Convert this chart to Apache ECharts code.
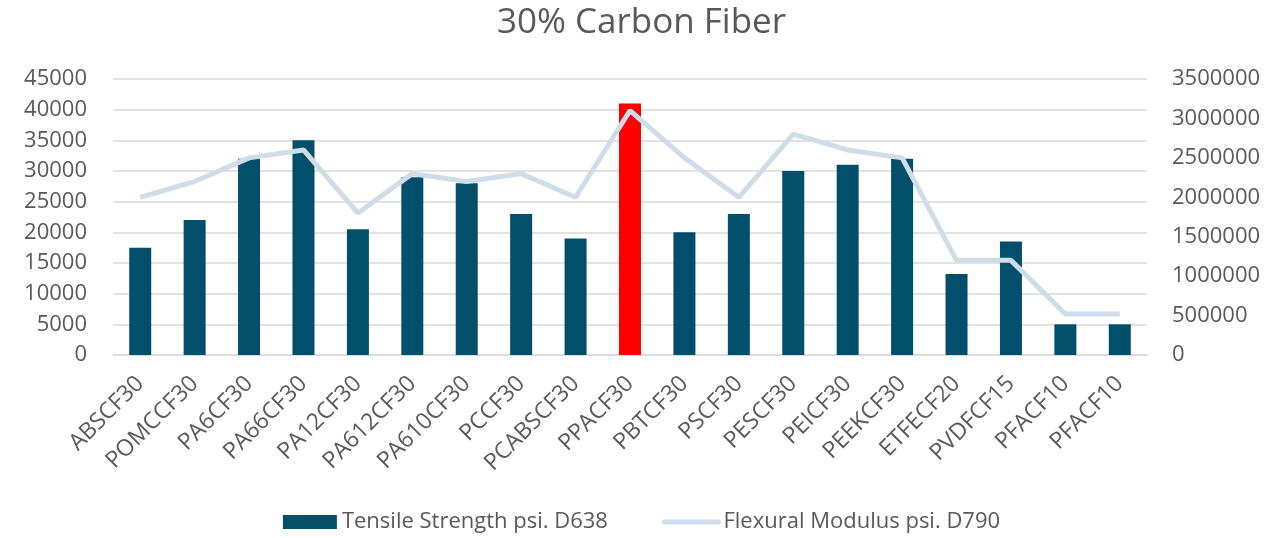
<!DOCTYPE html>
<html>
<head>
<meta charset="utf-8">
<script src="https://cdn.jsdelivr.net/npm/echarts@6/dist/echarts.min.js"></script>
<style>
html,body{margin:0;padding:0;background:#fff;}
#chart{width:1283px;height:538px;}
</style>
</head>
<body>
<div id="chart"></div>
<script>
const categories = ['ABSCF30','POMCCF30','PA6CF30','PA66CF30','PA12CF30','PA612CF30','PA610CF30','PCCF30','PCABSCF30','PPACF30','PBTCF30','PSCF30','PESCF30','PEICF30','PEEKCF30','ETFECF20','PVDFCF15','PFACF10','PFACF10'];
const tensile = [17500,22000,32000,35000,20500,29000,28000,23000,19000,41000,20000,23000,30000,31000,32000,13200,18500,5000,5000];
const flexural = [2000000,2200000,2500000,2600000,1800000,2300000,2200000,2300000,2000000,3100000,2500000,2000000,2800000,2600000,2500000,1200000,1200000,520000,520000];
const highlightIndex = 9;

const FONT = 'Open Sans';
const TXT = '#595959';
const chart = echarts.init(document.getElementById('chart'));
chart.setOption({
  animation:false,
  title:{text:'30% Carbon Fiber',left:'center',top:1,textStyle:{fontFamily:FONT,fontSize:35,fontWeight:'normal',color:TXT}},
  legend:{bottom:0,left:'center',itemGap:54,itemWidth:54,itemHeight:14,
    textStyle:{fontFamily:FONT,fontSize:22,color:TXT},
    data:[{name:'Tensile Strength psi. D638',icon:'rect'},
          {name:'Flexural Modulus psi. D790',itemStyle:{opacity:0},lineStyle:{width:5,cap:'round',color:'#cfdde8'}}]},
  grid:{left:113,right:136,top:79,bottom:183,containLabel:false},
  xAxis:{type:'category',data:categories,
    axisLine:{lineStyle:{color:'#d9d9d9',width:1.5}},axisTick:{show:false},
    axisLabel:{rotate:45,interval:0,fontFamily:FONT,fontSize:23,color:TXT,margin:25}},
  yAxis:[
    {type:'value',min:0,max:45000,interval:5000,
      axisLine:{show:false},axisTick:{show:false},
      splitLine:{lineStyle:{color:'#d9d9d9',width:1.5}},
      axisLabel:{fontFamily:FONT,fontSize:22,color:TXT,margin:26,formatter:v=>String(v)}},
    {type:'value',min:0,max:3500000,interval:500000,position:'right',
      axisLine:{show:false},axisTick:{show:false},splitLine:{show:false},
      axisLabel:{fontFamily:FONT,fontSize:22,color:TXT,margin:25,formatter:v=>String(v)}}
  ],
  series:[
    {name:'Tensile Strength psi. D638',type:'bar',barWidth:22,itemStyle:{color:'#014f6b'},
      data:tensile.map((v,i)=> i===highlightIndex ? {value:v,itemStyle:{color:'#ff0000'}} : v)},
    {name:'Flexural Modulus psi. D790',type:'line',yAxisIndex:1,symbol:'none',
      lineStyle:{color:'#cfdde8',width:5},itemStyle:{color:'#cfdde8'},data:flexural}
  ]
});
</script>
</body>
</html>
